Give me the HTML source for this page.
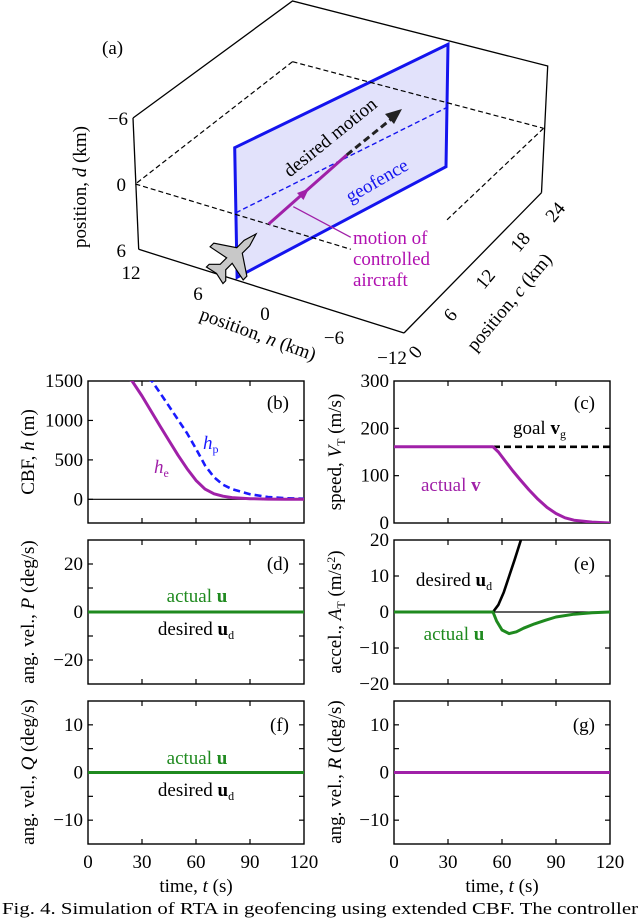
<!DOCTYPE html>
<html><head><meta charset="utf-8"><style>
html,body{margin:0;padding:0;background:#fff}
svg{display:block;font-family:"Liberation Serif",serif}
</style></head><body>
<svg id="fig" width="640" height="919" viewBox="0 0 640 919" xmlns="http://www.w3.org/2000/svg">
<g id="p3d">
  <polygon points="234.7,147.7 448,44.3 446,166.7 237.1,277.3" fill="#e2e2fb" stroke="#1414ee" stroke-width="3"/>
  <g stroke="#000" stroke-width="1.3" fill="none">
    <polyline points="133,118 292.5,1 547.7,66 541.5,192.7"/>
    <line x1="133" y1="118" x2="138.7" y2="249.3"/>
    <line x1="138.7" y1="249.3" x2="404" y2="333"/>
    <line x1="404" y1="333" x2="541.5" y2="192.7"/>
  </g>
  <g stroke="#000" stroke-width="1.2" stroke-dasharray="5,3" fill="none">
    <line x1="292.5" y1="61.7" x2="543.6" y2="128.3"/>
    <line x1="292.5" y1="61.7" x2="135.4" y2="184"/>
    <line x1="135.4" y1="184" x2="350.8" y2="249.3"/>
    <line x1="543.6" y1="128.3" x2="445" y2="221.7"/>
  </g>
  <line x1="236" y1="212.7" x2="447.2" y2="107.3" stroke="#1414ee" stroke-width="1.4" stroke-dasharray="5,3"/>
  <line x1="346.7" y1="155" x2="395" y2="116" stroke="#222" stroke-width="3" stroke-dasharray="7,4"/>
  <polygon points="402,109 385,114 394,124" fill="#222"/>
  <line x1="268.7" y1="224" x2="346.7" y2="155" stroke="#a020a8" stroke-width="3"/>
  <polygon points="309,188.5 297,193 303.5,200" fill="#a020a8"/>
  <line x1="293.3" y1="206.7" x2="350.8" y2="237.3" stroke="#a020a8" stroke-width="1.3"/>
  <g transform="translate(234,256) rotate(45) scale(1.3)" fill="#c8c8c8" stroke="#000" stroke-width="0.9">
    <path d="M0,-24 L3,-14 L3,-6 L18,4 L18,8 L3,5 L3,12 L9,18 L9,21 L0,19 L-9,21 L-9,18 L-3,12 L-3,5 L-18,8 L-18,4 L-3,-6 L-3,-14 Z"/>
  </g>
  <text x="102" y="54" font-size="19">(a)</text>
  <text x="0" y="0" font-size="19" text-anchor="middle" transform="translate(334,142) rotate(-39)">desired motion</text>
  <text x="0" y="0" font-size="19" fill="#1414ee" text-anchor="middle" transform="translate(380,186) rotate(-30)">geofence</text>
  <g font-size="19" fill="#b010b0">
    <text x="353" y="244">motion of</text>
    <text x="353" y="265">controlled</text>
    <text x="353" y="286">aircraft</text>
  </g>
  <g font-size="19" text-anchor="end">
    <text x="128" y="125">−6</text><text x="126" y="191">0</text><text x="126" y="257">6</text>
  </g>
  <text font-size="19" text-anchor="middle" transform="translate(86,187) rotate(-90)">position, <tspan font-style="italic">d</tspan> (km)</text>
  <g font-size="19" text-anchor="middle">
    <text x="131" y="279">12</text><text x="198" y="300">6</text><text x="265" y="320">0</text><text x="334" y="344">−6</text><text x="392" y="364">−12</text>
  </g>
  <text font-size="19" text-anchor="middle" transform="translate(256,340) rotate(20)">position, <tspan font-style="italic">n</tspan> (km)</text>
  <g font-size="19" text-anchor="middle">
    <text transform="translate(420,356) rotate(-50)">0</text>
    <text transform="translate(455,319) rotate(-50)">6</text>
    <text transform="translate(490,283) rotate(-50)">12</text>
    <text transform="translate(525,246) rotate(-50)">18</text>
    <text transform="translate(560,216) rotate(-50)">24</text>
  </g>
  <text font-size="19" text-anchor="middle" transform="translate(514,306) rotate(-50)">position, <tspan font-style="italic">c</tspan> (km)</text>
</g>
<g id="panels"></g>
<text x="2" y="914" font-size="17" textLength="636" lengthAdjust="spacingAndGlyphs">Fig. 4.  Simulation of RTA in geofencing using extended CBF. The controller</text>
</svg>
<script>
// ---- data ----
const tTicks = [0, 30, 60, 90, 120];
const heT = [0, 24.5, 30, 35, 40, 45, 50, 55, 60, 65, 70, 75, 80, 90, 100, 110, 120];
const heV = [1900, 1500, 1310, 1120, 930, 745, 560, 390, 240, 130, 70, 40, 22, 8, 3, 1, 0];
const hpT = [0, 35.5, 40, 45, 50, 55, 60, 65, 70, 75, 80, 90, 100, 110, 120];
const hpV = [1900, 1500, 1350, 1180, 1010, 840, 640, 430, 280, 185, 130, 65, 30, 14, 8];
const vT = [0, 55, 58, 62, 66, 70, 75, 80, 85, 90, 95, 100, 110, 120];
const vV = [161, 161, 150, 130, 110, 92, 70, 50, 33, 20, 11, 6, 2, 0];
const goalT = [55, 120];
const goalV = [161, 161];
const udT = [55, 58, 61, 64, 67, 70.5, 72];
const udV = [0, 2, 5.5, 10, 14.5, 20, 22];
const uT = [0, 55, 57, 60, 64, 68, 72, 78, 84, 90, 100, 110, 120];
const uV = [0, 0, -2.5, -5, -6, -5.5, -4.5, -3.3, -2.3, -1.4, -0.6, -0.2, 0];
const zeroT = [0, 120];
const zeroV = [0, 0];
const ticksB = [1500, 1000, 500, 0];
const ticksC = [300, 200, 100, 0];
const ticksD = [20, 10, 0, -10, -20];
const labelsD = [20, 0, -20];
const ticksE = [20, 10, 0, -10, -20];
const ticksF = [10, 5, 0, -5, -10];
const labelsF = [10, 0, -10];

const NS = "http://www.w3.org/2000/svg";
const root = document.getElementById('panels');
const PURPLE = "#a020a8", GREEN = "#1f8a1f", BLUE = "#1a1aff";
const FS = 19;
function mk(tag, attrs, parent) {
  const e = document.createElementNS(NS, tag);
  for (const k in attrs) e.setAttribute(k, attrs[k]);
  (parent || root).appendChild(e);
  return e;
}
function makePanel(name, x0, x1, y0, y1, ymin, ymax, yticks, ylabels, showX) {
  const g = mk('g', {});
  
  
  const sx = t => x0 + (t - 0) / 120 * (x1 - x0);
  const sy = v => y1 - (v - ymin) / (ymax - ymin) * (y1 - y0);
  const cp = 'clip-' + name;
  const cl = mk('clipPath', {id: cp}, g);
  mk('rect', {x: x0, y: y0, width: x1 - x0, height: y1 - y0}, cl);
  const frame = mk('rect', {x: x0, y: y0, width: x1 - x0, height: y1 - y0, fill: 'none', stroke: '#000', 'stroke-width': 1.4}, g);
  
  
  tTicks.forEach(t => {
    if (t > 0 && t < 120) {
      mk('line', {x1: sx(t), x2: sx(t), y1: y1, y2: y1 - 5, stroke: '#000', 'stroke-width': 1.2}, g);
      mk('line', {x1: sx(t), x2: sx(t), y1: y0, y2: y0 + 5, stroke: '#000', 'stroke-width': 1.2}, g);
    }
    if (showX) {
      const tl = mk('text', {x: sx(t), y: y1 + 24, 'font-size': FS, 'text-anchor': 'middle'}, g);
      
      
      tl.textContent = t;
    }
  });
  yticks.forEach(v => {
    const y = sy(v);
    if (y > y0 + 1 && y < y1 - 1) {
      mk('line', {x1: x0, x2: x0 + 5, y1: y, y2: y, stroke: '#000', 'stroke-width': 1.2}, g);
      mk('line', {x1: x1, x2: x1 - 5, y1: y, y2: y, stroke: '#000', 'stroke-width': 1.2}, g);
    }
  });
  ylabels.forEach(v => {
    const yl = mk('text', {x: x0 - 5, y: sy(v) + 6, 'font-size': FS, 'text-anchor': 'end'}, g);
    
    
    yl.textContent = String(v).replace('-', '\u2212');
  });
  if (showX) {
    const xt = mk('text', {x: (x0 + x1) / 2, y: y1 + 48, 'font-size': FS, 'text-anchor': 'middle'}, g);
    
    
    xt.innerHTML = 'time, <tspan font-style="italic">t</tspan> (s)';
  }
  const series = (ts, vs, color, w, dash, sname) => {
    const d = ts.map((t, i) => (i ? 'L' : 'M') + sx(t).toFixed(1) + ',' + sy(vs[i]).toFixed(1)).join(' ');
    const p = mk('path', {d: d, fill: 'none', stroke: color, 'stroke-width': w, 'clip-path': 'url(#' + cp + ')', 'stroke-linejoin': 'round'}, g);
    if (dash) p.setAttribute('stroke-dasharray', dash);
    
    
    return p;
  };
  return {g, sx, sy, series};
}
function label(g, x, y, html, color, name, anchor) {
  const t = mk('text', {x: x, y: y, 'font-size': FS, fill: color || '#000', 'text-anchor': anchor || 'start'}, g);
  
  
  t.innerHTML = html;
}
function ytitle(g, x, y, html, name) {
  const t = mk('text', {x: 0, y: 0, 'font-size': FS, 'text-anchor': 'middle', transform: 'translate(' + x + ',' + y + ') rotate(-90)'}, g);
  
  
  t.innerHTML = html;
}
const UA = 'actual <tspan font-weight="bold">u</tspan>';
const UD = 'desired <tspan font-weight="bold">u</tspan><tspan font-size="12" dy="4">d</tspan>';
const LX0 = 88, LX1 = 304, RX0 = 394, RX1 = 610;
const LT = 34, RT = 341;

// (b)
const pb = makePanel('panel-b-cbf', LX0, LX1, 381, 523, -300, 1500, ticksB, ticksB, false);
pb.series(zeroT, zeroV, '#000', 1.2, null, 'zero-line');
pb.series(hpT, hpV, BLUE, 2.6, '7,4', 'series-hp');
pb.series(heT, heV, PURPLE, 3, null, 'series-he');
label(pb.g, 203, 449, '<tspan font-style="italic">h</tspan><tspan font-size="12" dy="4">p</tspan>', BLUE, 'hp-label');
label(pb.g, 154, 473, '<tspan font-style="italic">h</tspan><tspan font-size="12" dy="4">e</tspan>', PURPLE, 'he-label');
label(pb.g, 289, 409, '(b)', '#000', 'panel-b-label', 'end');
ytitle(pb.g, LT, 452, 'CBF, <tspan font-style="italic">h</tspan> (m)', 'y-axis-title-b');

// (c)
const pc = makePanel('panel-c-speed', RX0, RX1, 381, 523, 0, 300, ticksC, ticksC, false);
pc.series(goalT, goalV, '#000', 2.6, '7,4', 'series-goal-speed');
pc.series(vT, vV, PURPLE, 3, null, 'series-actual-speed');
label(pc.g, 513, 434, 'goal <tspan font-weight="bold">v</tspan><tspan font-size="12" dy="4">g</tspan>', '#000', 'goal-v-label');
label(pc.g, 421, 491, 'actual <tspan font-weight="bold">v</tspan>', PURPLE, 'actual-v-label');
label(pc.g, 595, 409, '(c)', '#000', 'panel-c-label', 'end');
ytitle(pc.g, RT, 452, 'speed, <tspan font-style="italic">V</tspan><tspan font-size="12" dy="4">T</tspan><tspan dy="-4"> (m/s)</tspan>', 'y-axis-title-c');

// (d)
const pd = makePanel('panel-d-roll-rate', LX0, LX1, 540, 684, -30, 30, ticksD, labelsD, false);
pd.series(zeroT, zeroV, '#000', 1.2, null, 'desired-line');
pd.series(zeroT, zeroV, GREEN, 3, null, 'actual-line');
label(pd.g, 197, 602, UA, GREEN, 'actual-u-label', 'middle');
label(pd.g, 196, 635, UD, '#000', 'desired-u-label', 'middle');
label(pd.g, 289, 570, '(d)', '#000', 'panel-d-label', 'end');
ytitle(pd.g, LT, 612, 'ang. vel., <tspan font-style="italic">P</tspan> (deg/s)', 'y-axis-title-d');

// (e)
const pe = makePanel('panel-e-accel', RX0, RX1, 540, 684, -20, 20, ticksE, ticksE, false);
pe.series(zeroT, zeroV, '#000', 1.2, null, 'zero-line');
pe.series(udT, udV, '#000', 2.6, null, 'series-desired-accel');
pe.series(uT, uV, GREEN, 3, null, 'series-actual-accel');
label(pe.g, 454, 586, UD, '#000', 'desired-u-label', 'middle');
label(pe.g, 454, 640, UA, GREEN, 'actual-u-label', 'middle');
label(pe.g, 595, 570, '(e)', '#000', 'panel-e-label', 'end');
ytitle(pe.g, RT, 612, 'accel., <tspan font-style="italic">A</tspan><tspan font-size="12" dy="4">T</tspan><tspan dy="-4"> (m/s</tspan><tspan font-size="12" dy="-6">2</tspan><tspan dy="6">)</tspan>', 'y-axis-title-e');

// (f)
const pf = makePanel('panel-f-pitch-rate', LX0, LX1, 701, 844, -15, 15, ticksF, labelsF, true);
pf.series(zeroT, zeroV, '#000', 1.2, null, 'desired-line');
pf.series(zeroT, zeroV, GREEN, 3, null, 'actual-line');
label(pf.g, 197, 764, UA, GREEN, 'actual-u-label', 'middle');
label(pf.g, 196, 796, UD, '#000', 'desired-u-label', 'middle');
label(pf.g, 289, 731, '(f)', '#000', 'panel-f-label', 'end');
ytitle(pf.g, LT, 772, 'ang. vel., <tspan font-style="italic">Q</tspan> (deg/s)', 'y-axis-title-f');

// (g)
const pg = makePanel('panel-g-yaw-rate', RX0, RX1, 701, 844, -15, 15, ticksF, labelsF, true);
pg.series(zeroT, zeroV, PURPLE, 3, null, 'yaw-rate-line');
label(pg.g, 595, 731, '(g)', '#000', 'panel-g-label', 'end');
ytitle(pg.g, RT, 772, 'ang. vel., <tspan font-style="italic">R</tspan> (deg/s)', 'y-axis-title-g');
</script>
</body></html>
